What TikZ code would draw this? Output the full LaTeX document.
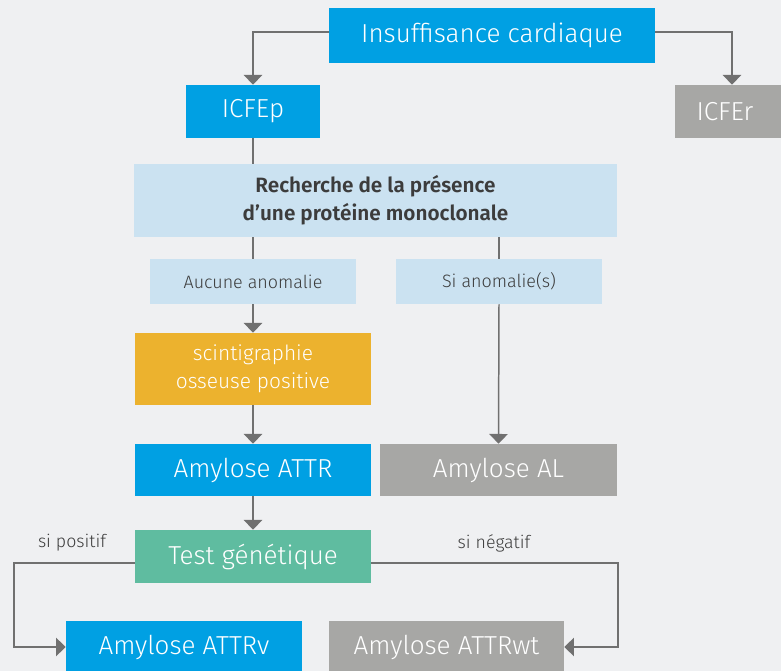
\documentclass[tikz,border=0pt]{standalone}
\usepackage{fontspec}
\setmainfont{Fira Sans}[UprightFont={* Light}, BoldFont={* SemiBold}]
\usetikzlibrary{arrows.meta}
\definecolor{bgc}{HTML}{EFF0F2}
\definecolor{cblue}{HTML}{00A0E3}
\definecolor{cgray}{HTML}{A7A7A5}
\definecolor{clight}{HTML}{CBE2F1}
\definecolor{cyellow}{HTML}{ECB22E}
\definecolor{cgreen}{HTML}{5FBCA0}
\definecolor{cline}{HTML}{707070}
\definecolor{ctext}{HTML}{3C3C3C}
\tikzset{
  box/.style={inner sep=0pt, align=center, text=white, font=\fontsize{14.8}{17}\selectfont},
  bluebox/.style={box, fill=cblue},
  graybox/.style={box, fill=cgray},
  lightbox/.style={box, fill=clight, text=ctext, font=\fontsize{10.2}{12}\selectfont},
  conn/.style={draw=cline, line width=0.85pt},
  arr/.style={conn, -{Triangle[width=10.5pt,length=5.5pt]}},
  lbl/.style={text=ctext, font=\fontsize{10.1}{12}\selectfont}
}

\begin{document}
\begin{tikzpicture}[x=0.02cm, y=-0.02cm]
		%%%%% START %%%%%
		
		\fill[bgc] (0, 0) rectangle (781, 671);
		\useasboundingbox (0, 0) rectangle (781, 671);
		
		\node[bluebox, minimum width=6.52cm, minimum height=1.1cm] (ins) at (492, 35.5) {Insuffisance cardiaque};
		\node[bluebox, minimum width=2.68cm, minimum height=1.06cm] (icfep) at (253, 111.5) {ICFEp};
		\node[graybox, minimum width=2.28cm, minimum height=1.06cm] (icfer) at (732, 111.5) {\hspace*{-8pt}ICFEr};
		
		\node[lightbox, minimum width=9.66cm, minimum height=1.46cm, font=\bfseries\fontsize{11.8}{16}\selectfont] (rech) at (375.5, 200.5) {Recherche de la présence\\d’une protéine monoclonale};
		\node[lightbox, minimum width=4.14cm, minimum height=0.9cm] (auc) at (253, 281.5) {Aucune anomalie};
		\node[lightbox, minimum width=4.14cm, minimum height=0.9cm] (sian) at (499, 281.5) {Si anomalie(s)};
		
		\node[box, fill=cyellow, minimum width=4.72cm, minimum height=1.44cm, font=\fontsize{11.9}{16}\selectfont] (scint) at (253, 369) {scintigraphie\\osseuse positive};
		\node[bluebox, minimum width=4.72cm, minimum height=1.04cm] (attr) at (253, 470) {Amylose ATTR};
		\node[graybox, minimum width=4.74cm, minimum height=1.04cm] (al) at (498.5, 470) {Amylose AL};
		
		\node[box, fill=cgreen, minimum width=4.72cm, minimum height=1.06cm] (test) at (253, 556.5) {Test génétique};
		\node[bluebox, minimum width=4.72cm, minimum height=1.04cm] (attrv) at (184, 647) {Amylose ATTRv};
		\node[graybox, minimum width=4.7cm, minimum height=1.04cm] (attrwt) at (446.5, 647) {Amylose ATTRwt};
		
		\node[lbl] (pos) at (72, 543) {si positif};
		\node[lbl] (neg) at (494, 543) {si négatif};
		
		\coordinate (top) at (492, 32);
		\coordinate (lft) at (14, 563);
		\coordinate (rgt) at (618, 563);
		
		% connectors
		\draw[arr] (top -| ins.west) -| (icfep.north);
		\draw[arr] (top -| ins.east) -| (icfer.north);
		\draw[conn] (icfep.south) -- (icfep.south |- rech.north);
		\draw[conn] (auc.north |- rech.south) -- (auc.north);
		\draw[arr] (auc.south) -- (scint.north);
		\draw[conn] (sian.north |- rech.south) -- (sian.north);
		\draw[arr] (sian.south) -- (al.north);
		\draw[arr] (scint.south) -- (attr.north);
		\draw[arr] (attr.south) -- (test.north);
		\draw[arr] (lft -| test.west) -- (lft) |- (attrv.west);
		\draw[arr] (rgt -| test.east) -- (rgt) |- (attrwt.east);
		
		%%%%% END %%%%%
	\end{tikzpicture}
\end{document}
